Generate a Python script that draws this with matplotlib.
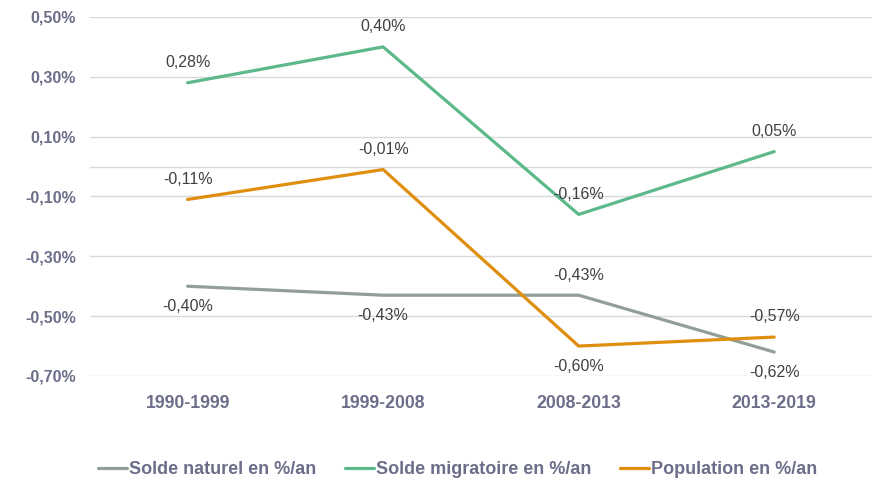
import matplotlib
matplotlib.use("Agg")
import matplotlib.pyplot as plt
from matplotlib.ticker import FuncFormatter

periods = ["1990-1999", "1999-2008", "2008-2013", "2013-2019"]
solde_naturel = [-0.40, -0.43, -0.43, -0.62]
solde_migratoire = [0.28, 0.40, -0.16, 0.05]
population = [-0.11, -0.01, -0.60, -0.57]
series_names = ["Solde naturel en %/an", "Solde migratoire en %/an", "Population en %/an"]
y_ticks = [0.5, 0.3, 0.1, -0.1, -0.3, -0.5, -0.7]

# label above (1) or below (-1) each point
naturel_side = [-1, -1, 1, -1]
migratoire_side = [1, 1, 1, 1]
population_side = [1, 1, -1, 1]

grey = "#939F96"
green = "#5DB98A"
orange = "#DF8E0D"
axis_txt = "#6C6E8A"
grid_c = "#D9D9D9"

plt.rcParams["font.family"] = ["Liberation Sans", "DejaVu Sans"]

fig = plt.figure(figsize=(8.72, 4.8), dpi=100)
ax = fig.add_axes([0.103, 0.2167, 0.897, 0.748])

x = list(range(len(periods)))
for vals, sides, col, name in [(solde_naturel, naturel_side, grey, series_names[0]),
                               (solde_migratoire, migratoire_side, green, series_names[1]),
                               (population, population_side, orange, series_names[2])]:
    ax.plot(x, vals, color=col, lw=2.3, label=name, solid_capstyle="round")
    for xi, v, s in zip(x, vals, sides):
        txt = ("%.2f%%" % v).replace(".", ",")
        ax.annotate(txt, (xi, v), xytext=(0, 14.5 * s), textcoords="offset points",
                    ha="center", va="center", fontsize=11.5, color="#404040")

ax.set_xlim(-0.5, 3.5)
ax.set_ylim(-0.7, 0.5)
ax.set_yticks(y_ticks)
ax.yaxis.set_major_formatter(FuncFormatter(lambda v, p: ("%.2f%%" % v).replace(".", ",")))
ax.set_xticks(x)
ax.set_xticklabels(periods)
for s in ax.spines.values():
    s.set_visible(False)
ax.grid(axis="y", color=grid_c, lw=1)
ax.axhline(0, color=grid_c, lw=1, zorder=0)
ax.set_axisbelow(True)
ax.tick_params(axis="y", length=0, pad=10, labelsize=11.5, labelcolor=axis_txt)
ax.tick_params(axis="x", length=0, pad=14, labelsize=12.7, labelcolor=axis_txt)
for lab in ax.get_yticklabels() + ax.get_xticklabels():
    lab.set_fontweight("bold")

leg = fig.legend(loc="center", bbox_to_anchor=(0.525, 0.022), ncol=3, frameon=False,
                 handlelength=1.6, handletextpad=0.1, columnspacing=1.6,
                 borderaxespad=0, borderpad=0.1,
                 prop={"weight": "bold", "size": 13})
for t in leg.get_texts():
    t.set_color(axis_txt)

fig.savefig("out.png", dpi=100)
